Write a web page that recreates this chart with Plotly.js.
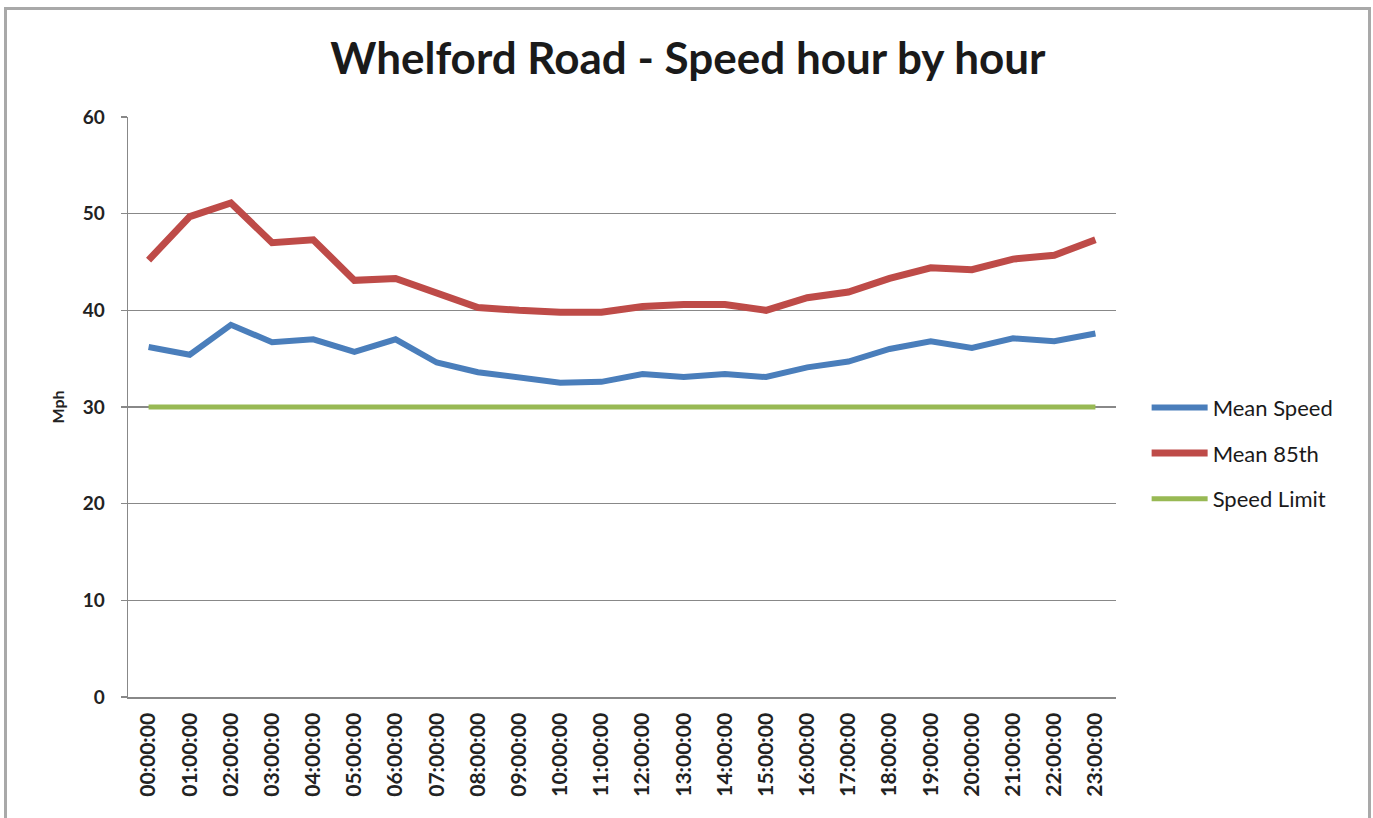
<!DOCTYPE html>
<html>
<head>
<meta charset="utf-8">
<script src="https://cdn.plot.ly/plotly-3.0.1.min.js"></script>
<style>
  html, body { margin: 0; padding: 0; background: #ffffff; }
  #chart { width: 1373px; height: 818px; }
  #frame { position: absolute; left: 4px; top: 7px; width: 1361px; height: 830px; border: 3px solid #a9a9a9; pointer-events: none; }
</style>
</head>
<body>
<div id="chart"></div>
<div id="frame"></div>
<script>
const hours = ["00:00:00","01:00:00","02:00:00","03:00:00","04:00:00","05:00:00","06:00:00","07:00:00",
               "08:00:00","09:00:00","10:00:00","11:00:00","12:00:00","13:00:00","14:00:00","15:00:00",
               "16:00:00","17:00:00","18:00:00","19:00:00","20:00:00","21:00:00","22:00:00","23:00:00"];
const meanSpeed = [36.2, 35.4, 38.5, 36.7, 37.0, 35.7, 37.0, 34.6, 33.6, 33.1, 32.5, 32.6,
                   33.4, 33.1, 33.4, 33.1, 34.1, 34.7, 36.0, 36.8, 36.1, 37.1, 36.8, 37.6];
const mean85th = [45.2, 49.7, 51.1, 47.0, 47.3, 43.1, 43.3, 41.8, 40.3, 40.0, 39.8, 39.8,
                  40.4, 40.6, 40.6, 40.0, 41.3, 41.9, 43.3, 44.4, 44.2, 45.3, 45.7, 47.3];
const speedLimit = [30, 30, 30, 30, 30, 30, 30, 30, 30, 30, 30, 30,
                    30, 30, 30, 30, 30, 30, 30, 30, 30, 30, 30, 30];
const seriesNames = ["Mean Speed", "Mean 85th", "Speed Limit"];

const FONT = "Lato, 'Open Sans', 'DejaVu Sans', sans-serif";
const GRID = "#888888";

const traces = [
  { x: hours, y: meanSpeed, name: seriesNames[0], type: "scatter", mode: "lines",
    line: { color: "#4a7ebb", width: 6 }, legendgroup: "a" },
  { x: hours, y: mean85th, name: seriesNames[1], type: "scatter", mode: "lines",
    line: { color: "#be4b48", width: 7 }, legendgroup: "b" },
  { x: hours, y: speedLimit, name: seriesNames[2], type: "scatter", mode: "lines",
    line: { color: "#98b954", width: 5 }, legendgroup: "c" }
];

const layout = {
  width: 1373, height: 818,
  paper_bgcolor: "#ffffff", plot_bgcolor: "#ffffff",
  margin: { l: 128, r: 257, t: 117, b: 121, pad: 0 },
  font: { family: FONT, color: "#1a1a1a" },
  title: {
    text: "<b>Whelford Road - Speed hour by hour</b>",
    font: { family: FONT, size: 44, color: "#1a1a1a" },
    x: 0.501, xanchor: "center", xref: "container",
    y: 0.928, yanchor: "middle", yref: "container"
  },
  xaxis: {
    type: "category",
    range: [-0.5, 23.5],
    tickangle: -90,
    tickfont: { family: FONT, size: 21, color: "#222222", weight: "bold" },
    showline: true, linecolor: GRID, linewidth: 1.5,
    showgrid: false, zeroline: false,
    ticks: "", ticklabelstandoff: 6,
    fixedrange: true
  },
  yaxis: {
    range: [0, 60], dtick: 10, tick0: 0,
    tickfont: { family: FONT, size: 19, color: "#222222", weight: "bold" },
    showline: true, linecolor: GRID, linewidth: 1.5,
    showgrid: true, gridcolor: GRID, gridwidth: 1.5,
    zeroline: false,
    ticks: "outside", ticklen: 6, tickcolor: GRID, tickwidth: 1.5,
    ticklabelstandoff: 12,
    title: { text: "<b>Mph</b>", font: { family: FONT, size: 16, color: "#222222" }, standoff: 14 },
    fixedrange: true
  },
  showlegend: true,
  legend: {
    x: 1.031, xanchor: "left", y: 0.535, yanchor: "top",
    font: { family: FONT, size: 22, color: "#1a1a1a" },
    traceorder: "grouped", tracegroupgap: 14,
    itemwidth: 56, bgcolor: "rgba(0,0,0,0)"
  }
};

Plotly.newPlot("chart", traces, layout, { displayModeBar: false, staticPlot: true });
</script>
</body>
</html>
